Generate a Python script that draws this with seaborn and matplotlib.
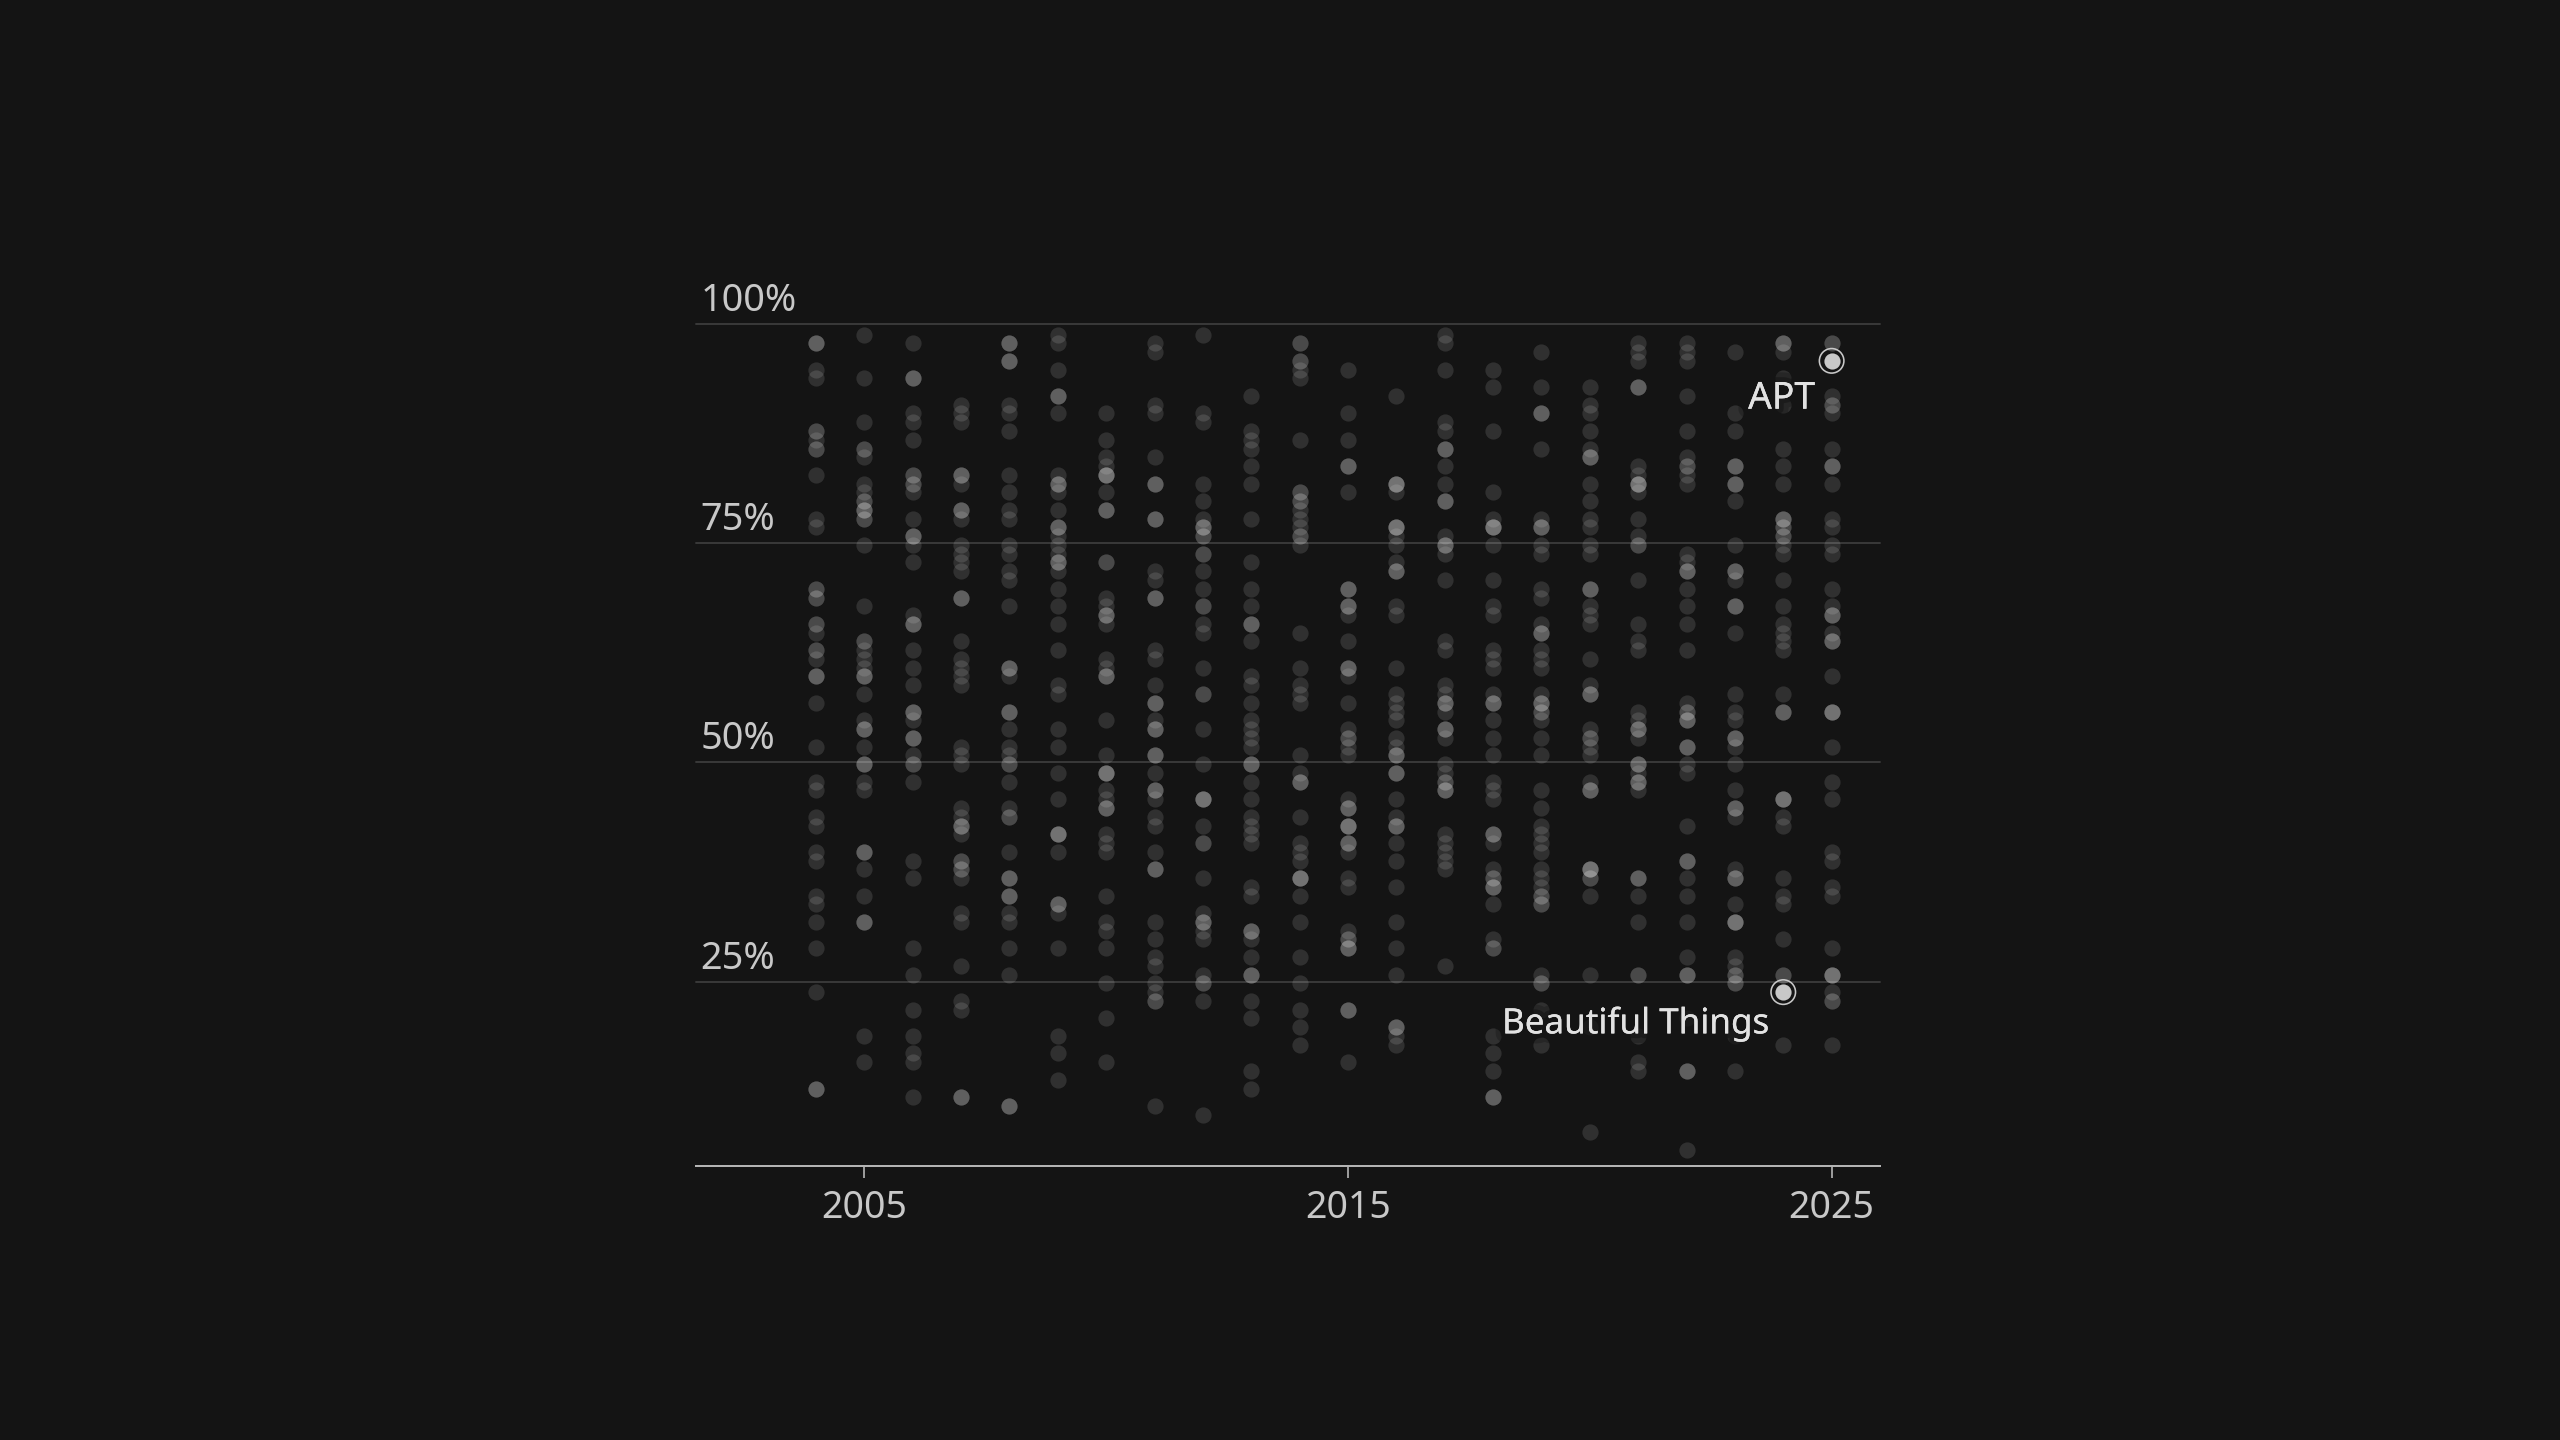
import pandas as pd
import matplotlib.pyplot as plt
import matplotlib.patheffects as pe
import seaborn as sns

# percentile of each song, one list per year; a repeated value means songs on the same spot
y2004 = [98,98,98,95,94,88,88,87,86,86,83,78,77,70,70,69,69,66,66,65,63,63,62,60,60,60,57,52,48,47,44,43,40,39,35,34,32,29,24,13,13,13]
y2005 = [99,94,89,86,86,85,82,81,80,80,79,79,79,78,78,75,68,64,64,63,62,61,60,60,60,58,55,54,54,54,52,50,50,50,48,47,40,40,40,38,35,32,32,32,19,16]
y2006 = [98,94,94,94,90,89,87,83,83,82,82,81,78,76,76,76,75,73,67,66,66,66,63,61,59,56,56,56,55,53,53,53,51,50,50,48,39,37,29,26,22,19,17,16,12]
y2007 = [91,90,89,83,83,83,82,79,79,79,78,75,74,73,72,69,69,69,64,62,61,60,59,52,51,50,45,44,43,43,43,42,39,39,38,38,37,33,32,27,23,22,12,12,12]
y2008 = [98,98,98,96,96,96,91,90,88,83,81,79,78,75,74,72,71,68,61,61,61,60,56,56,56,54,52,51,50,50,48,45,44,44,40,37,37,37,35,35,35,33,32,29,26,11,11,11]
y2009 = [99,98,95,92,92,92,90,83,82,82,82,81,79,77,77,77,76,75,74,73,73,73,72,70,68,66,63,59,58,54,52,49,46,42,42,42,42,40,34,34,34,33,29,19,17,14]
y2010 = [90,87,85,84,83,83,83,83,81,79,79,79,73,73,69,68,67,67,67,66,62,61,60,60,60,55,51,49,49,49,49,47,46,45,45,45,42,41,40,35,32,31,29,25,21,16]
y2011 = [98,97,91,90,85,82,82,82,78,78,78,72,71,69,69,69,63,62,59,57,57,57,55,54,54,54,51,51,51,49,47,47,47,46,44,43,40,38,38,38,32,30,28,27,25,24,23,23,11]
y2012 = [99,90,89,82,80,78,77,77,77,76,76,74,74,72,70,68,68,66,65,61,58,58,54,50,46,46,46,46,43,41,41,37,33,32,32,32,31,30,26,25,25,23,10]
y2013 = [92,88,87,86,84,82,78,73,70,68,66,66,66,64,60,59,57,55,54,53,52,50,50,50,48,46,44,43,42,41,36,35,31,31,31,30,28,26,26,26,23,21,15,13]
y2014 = [98,98,96,96,95,94,87,81,81,80,80,79,78,77,76,76,75,65,61,59,58,57,51,49,48,48,48,44,41,40,39,37,37,37,37,35,32,28,25,22,20,18]
y2015 = [95,90,87,84,84,84,81,70,70,70,68,68,68,67,64,61,61,61,60,57,54,53,53,52,51,46,45,45,45,43,43,43,43,41,41,41,40,37,36,31,30,30,29,29,29,22,22,22,16]
y2016 = [92,82,82,82,82,81,77,77,77,77,76,75,73,72,72,72,68,67,61,58,57,56,55,53,52,51,51,51,49,49,49,46,44,43,43,43,41,39,36,32,29,26,20,20,20,19,18]
y2017 = [99,98,95,89,88,86,86,86,84,82,80,80,80,76,75,75,75,74,71,64,63,59,58,57,57,57,56,54,54,54,53,50,49,48,48,47,47,47,42,41,40,39,38,27]
y2018 = [95,93,88,81,78,77,77,77,77,75,71,68,67,63,62,61,58,57,57,57,55,53,51,48,47,46,42,42,42,41,38,37,37,36,36,36,34,30,29,29,19,17,15,12,12,12]
y2019 = [97,93,90,90,90,86,78,77,77,77,75,74,70,69,66,65,65,65,63,62,61,58,57,57,57,56,56,55,53,51,47,45,43,42,41,40,38,37,36,35,35,34,34,26,25,25,22,18]
y2020 = [93,91,90,88,86,85,85,85,82,80,78,77,75,74,70,70,70,68,67,66,62,59,58,58,58,54,53,53,52,51,48,47,47,47,38,38,38,38,37,37,35,26,20,8]
y2021 = [98,97,96,93,93,93,84,83,82,82,82,82,81,78,76,75,75,71,66,64,63,56,55,54,54,54,53,50,50,50,49,48,48,48,47,37,37,37,35,32,26,26,19,16,15]
y2022 = [98,97,96,92,88,85,84,84,83,82,74,73,72,72,72,70,68,66,63,57,56,56,55,55,55,52,52,52,50,49,43,39,39,39,37,35,32,28,26,26,26,21,15,15,15,6]
y2023 = [97,90,88,84,84,84,82,82,82,80,75,72,72,72,71,68,68,68,65,58,56,55,53,53,53,52,50,47,45,45,45,44,38,37,37,37,34,32,32,32,32,28,27,26,26,25,25,19,15]
y2024 = [98,98,98,97,94,91,86,84,82,78,78,78,77,77,76,76,75,74,71,68,66,65,64,63,58,56,56,56,46,46,46,46,44,43,37,35,34,30,26,26,18]
y2025 = [98,98,92,91,91,90,86,84,84,84,82,78,77,75,74,70,68,67,67,67,65,64,64,64,60,56,56,56,56,52,48,46,40,39,36,35,29,26,26,26,26,24,23,23,18]

years = list(range(2004, 2026))
all_years = [y2004, y2005, y2006, y2007, y2008, y2009, y2010, y2011, y2012, y2013, y2014,
             y2015, y2016, y2017, y2018, y2019, y2020, y2021, y2022, y2023, y2024, y2025]

highlight_names = ['APT', 'Beautiful Things']
highlight_years = [2025, 2024]
highlight_pct = [96, 24]

pct_ticks = [25, 50, 75, 100]
year_ticks = [2005, 2015, 2025]

BG = '#141414'
TEXT = '#c8c8c8'
LABEL = '#e2e2e2'
PX = 0.36  # one output pixel in points at dpi 200

rows = [(yr, p) for yr, vals in zip(years, all_years) for p in vals]
df = pd.DataFrame(rows, columns=['year', 'pct'])
hl = pd.DataFrame({'name': highlight_names, 'year': highlight_years, 'pct': highlight_pct})

# the dots sit a touch under the gridlines in the original
df['pct'] = df['pct'] - 0.2
hl['pct'] = hl['pct'] - 0.2

sns.set_theme(style='dark')
plt.rcParams['font.family'] = ['Noto Sans', 'DejaVu Sans']

fig = plt.figure(figsize=(12.8, 7.2), dpi=200, facecolor=BG)
ax = fig.add_axes([696 / 2560, 1 - 1165.7 / 1440, (1880 - 696) / 2560, (1165.7 - 324) / 1440])
ax.set_facecolor(BG)

for t in pct_ticks:
    ax.axhline(t, color='#3a3a3a', lw=1.9 * PX, zorder=1, clip_on=False)

sns.scatterplot(data=df, x='year', y='pct', s=34, color='white', alpha=0.12,
                linewidth=0, ax=ax, zorder=2, clip_on=False)
sns.scatterplot(data=hl, x='year', y='pct', s=34, color='#c8c8c8',
                linewidth=0, ax=ax, zorder=3)
ax.scatter(hl['year'], hl['pct'], s=78, facecolors='none', edgecolors='#c8c8c8',
           linewidths=1.6 * PX, zorder=3)

ax.set_xlim(2001.52, 2026)
ax.set_ylim(4, 100)
ax.set_xlabel('')
ax.set_ylabel('')
ax.grid(False)
sns.despine(ax=ax, left=True, top=True, right=True)
ax.spines['bottom'].set_color('#b4b4b4')
ax.spines['bottom'].set_linewidth(2 * PX)

ax.set_xticks(year_ticks)
ax.set_yticks([])
ax.tick_params(axis='x', colors=TEXT, length=12 * PX, width=2 * PX, pad=4.2, labelsize=13.5, bottom=True)
ax.tick_params(axis='x', color='#9a9a9a')

for t in pct_ticks:
    ax.annotate(f'{t}%', xy=(0, t), xycoords=('axes fraction', 'data'),
                xytext=(1.5, 1.4), textcoords='offset points',
                ha='left', va='bottom', color=TEXT, fontsize=13.6)

halo = [pe.withStroke(linewidth=7, foreground=BG, alpha=0.35),
        pe.withStroke(linewidth=3.5, foreground=BG, alpha=0.6),
        pe.Normal()]
label_offset = {'APT': (-6.0, -7.5), 'Beautiful Things': (-5.0, -5.3)}
label_size = {'APT': 13.4, 'Beautiful Things': 12.6}
for _, row in hl.iterrows():
    ax.annotate(row['name'], xy=(row['year'], row['pct']),
                xytext=label_offset[row['name']], textcoords='offset points',
                ha='right', va='top', color=LABEL, fontsize=label_size[row['name']],
                path_effects=halo, zorder=4)

fig.savefig('out.png', dpi=200, facecolor=BG)
